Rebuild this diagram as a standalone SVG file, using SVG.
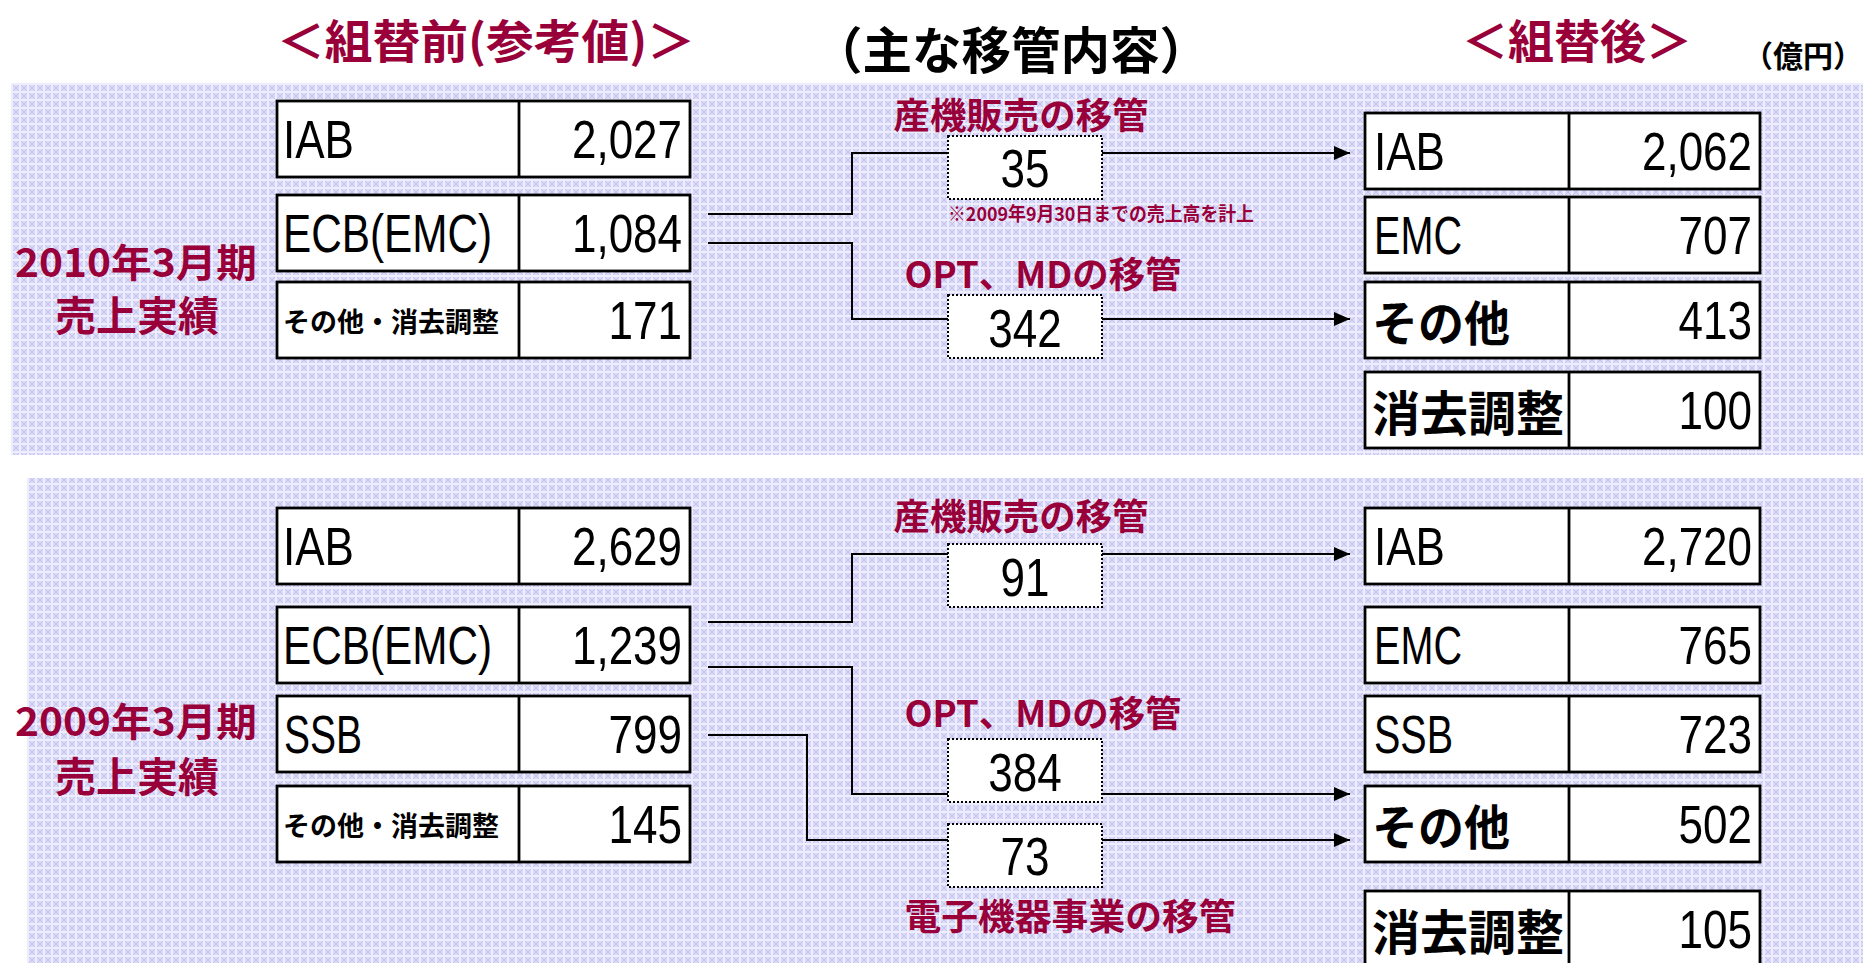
<svg xmlns="http://www.w3.org/2000/svg" width="1863" height="963" viewBox="0 0 1863 963">
<defs>
<pattern id="hatch" width="8" height="8" patternUnits="userSpaceOnUse">
<rect width="8" height="8" fill="#dcdcf8"/>
<path d="M0 0L8 8M8 0L0 8" stroke="#c2c2f2" stroke-width="1"/>
<path d="M4 0V8M0 4H8" stroke="#ffffff" stroke-width="1"/>
</pattern>
<marker id="arr" markerUnits="userSpaceOnUse" markerWidth="16" markerHeight="14" refX="16" refY="7" orient="auto">
<path d="M0 0L16 7L0 14z" fill="#000"/>
</marker>
<style>
.cell{fill:#fff;stroke:#000;stroke-width:2.8}
.dv{stroke:#000;stroke-width:2.8}
.num{font-family:"Liberation Sans",Arial,sans-serif;font-size:54px;fill:#000;text-anchor:end}
.numc{font-family:"Liberation Sans",Arial,sans-serif;font-size:54px;fill:#000;text-anchor:middle}
.lat{font-family:"Liberation Sans",Arial,sans-serif;font-size:54px;fill:#000}
.jp{font-family:"Noto Sans CJK JP",sans-serif;dominant-baseline:central;fill:#000}
.jl{font-size:48px;font-weight:bold}
.js{font-size:27px;font-weight:bold}
.red{fill:#99003a;font-weight:bold}
.mid{text-anchor:middle}
.box{fill:#fff;stroke:#000;stroke-width:2;stroke-dasharray:2 2}
.conn{fill:none;stroke:#000;stroke-width:2}
</style>
</defs>

<rect width="1863" height="963" fill="#fff"/>
<g id="panels">
<rect x="11" y="83" width="1852" height="372" fill="url(#hatch)"/>
<rect x="27" y="478" width="1836" height="485" fill="url(#hatch)"/>
</g>

<g id="titles">
<text class="jp red mid" x="486" y="38" font-size="46" textLength="418" lengthAdjust="spacingAndGlyphs">＜組替前(参考値)＞</text>
<text class="jp mid" x="1011" y="47" font-size="50" font-weight="bold" textLength="396" lengthAdjust="spacingAndGlyphs">（主な移管内容）</text>
<text class="jp red mid" x="1577" y="38" font-size="46">＜組替後＞</text>
<text class="jp mid" x="1803" y="54" font-size="30" font-weight="bold" textLength="120" lengthAdjust="spacingAndGlyphs">（億円）</text>
</g>

<g id="connectors">
<path class="conn" d="M708 214H852V153H1350" marker-end="url(#arr)"/>
<path class="conn" d="M708 243H852V319H1350" marker-end="url(#arr)"/>
<path class="conn" d="M708 622H852V554H1350" marker-end="url(#arr)"/>
<path class="conn" d="M708 667H852V794H1350" marker-end="url(#arr)"/>
<path class="conn" d="M708 735H807V840H1350" marker-end="url(#arr)"/>
</g>

<!-- 2010 period -->
<g id="label-2010">
<text class="jp red mid"><tspan x="136" y="260" font-size="39" textLength="242" lengthAdjust="spacingAndGlyphs">2010年3月期</tspan><tspan x="137" y="313" font-size="41">売上実績</tspan></text>
</g>
<g id="b10-iab"><rect class="cell" x="277" y="101" width="413" height="76"/><line class="dv" x1="519" y1="101" x2="519" y2="177"/>
<text class="lat" x="283" y="158" textLength="71" lengthAdjust="spacingAndGlyphs">IAB</text>
<text class="num" x="682" y="158" textLength="110" lengthAdjust="spacingAndGlyphs">2,027</text></g>
<g id="b10-ecb"><rect class="cell" x="277" y="195" width="413" height="76"/><line class="dv" x1="519" y1="195" x2="519" y2="271"/>
<text class="lat" x="283" y="252" textLength="209" lengthAdjust="spacingAndGlyphs">ECB(EMC)</text>
<text class="num" x="682" y="252" textLength="110" lengthAdjust="spacingAndGlyphs">1,084</text></g>
<g id="b10-oth"><rect class="cell" x="277" y="282" width="413" height="76"/><line class="dv" x1="519" y1="282" x2="519" y2="358"/>
<text class="jp js" x="283" y="320" textLength="216" lengthAdjust="spacingAndGlyphs">その他・消去調整</text>
<text class="num" x="682" y="339" textLength="73.5" lengthAdjust="spacingAndGlyphs">171</text></g>

<g id="m10-sanki">
<text class="jp red mid" x="1021" y="113" font-size="36" textLength="255" lengthAdjust="spacingAndGlyphs">産機販売の移管</text>
<rect class="box" x="948" y="136" width="154" height="63"/>
<text class="numc" x="1025" y="187" textLength="49" lengthAdjust="spacingAndGlyphs">35</text>
<text class="jp red mid" x="1101" y="212" font-size="19" textLength="306" lengthAdjust="spacingAndGlyphs">※2009年9月30日までの売上高を計上</text>
</g>
<g id="m10-opt">
<text class="jp red mid" x="1043" y="272" font-size="36" textLength="277" lengthAdjust="spacingAndGlyphs">OPT、MDの移管</text>
<rect class="box" x="948" y="295" width="154" height="63"/>
<text class="numc" x="1025" y="347" textLength="73.5" lengthAdjust="spacingAndGlyphs">342</text>
</g>

<g id="a10-iab"><rect class="cell" x="1365" y="113" width="395" height="76"/><line class="dv" x1="1569" y1="113" x2="1569" y2="189"/>
<text class="lat" x="1374" y="170" textLength="71" lengthAdjust="spacingAndGlyphs">IAB</text>
<text class="num" x="1752" y="170" textLength="110" lengthAdjust="spacingAndGlyphs">2,062</text></g>
<g id="a10-emc"><rect class="cell" x="1365" y="197" width="395" height="76"/><line class="dv" x1="1569" y1="197" x2="1569" y2="273"/>
<text class="lat" x="1374" y="254" textLength="88" lengthAdjust="spacingAndGlyphs">EMC</text>
<text class="num" x="1752" y="254" textLength="73.5" lengthAdjust="spacingAndGlyphs">707</text></g>
<g id="a10-oth"><rect class="cell" x="1365" y="282" width="395" height="76"/><line class="dv" x1="1569" y1="282" x2="1569" y2="358"/>
<text class="jp jl" x="1372" y="320" textLength="138" lengthAdjust="spacingAndGlyphs">その他</text>
<text class="num" x="1752" y="339" textLength="73.5" lengthAdjust="spacingAndGlyphs">413</text></g>
<g id="a10-adj"><rect class="cell" x="1365" y="372" width="395" height="76"/><line class="dv" x1="1569" y1="372" x2="1569" y2="448"/>
<text class="jp jl" x="1372" y="410" textLength="192" lengthAdjust="spacingAndGlyphs">消去調整</text>
<text class="num" x="1752" y="429" textLength="73.5" lengthAdjust="spacingAndGlyphs">100</text></g>

<!-- 2009 period -->
<g id="label-2009">
<text class="jp red mid"><tspan x="136" y="719" font-size="39" textLength="242" lengthAdjust="spacingAndGlyphs">2009年3月期</tspan><tspan x="137" y="774" font-size="41">売上実績</tspan></text>
</g>
<g id="b09-iab"><rect class="cell" x="277" y="508" width="413" height="76"/><line class="dv" x1="519" y1="508" x2="519" y2="584"/>
<text class="lat" x="283" y="565" textLength="71" lengthAdjust="spacingAndGlyphs">IAB</text>
<text class="num" x="682" y="565" textLength="110" lengthAdjust="spacingAndGlyphs">2,629</text></g>
<g id="b09-ecb"><rect class="cell" x="277" y="607" width="413" height="76"/><line class="dv" x1="519" y1="607" x2="519" y2="683"/>
<text class="lat" x="283" y="664" textLength="209" lengthAdjust="spacingAndGlyphs">ECB(EMC)</text>
<text class="num" x="682" y="664" textLength="110" lengthAdjust="spacingAndGlyphs">1,239</text></g>
<g id="b09-ssb"><rect class="cell" x="277" y="696" width="413" height="76"/><line class="dv" x1="519" y1="696" x2="519" y2="772"/>
<text class="lat" x="284" y="753" textLength="78" lengthAdjust="spacingAndGlyphs">SSB</text>
<text class="num" x="682" y="753" textLength="73.5" lengthAdjust="spacingAndGlyphs">799</text></g>
<g id="b09-oth"><rect class="cell" x="277" y="786" width="413" height="76"/><line class="dv" x1="519" y1="786" x2="519" y2="862"/>
<text class="jp js" x="283" y="824" textLength="216" lengthAdjust="spacingAndGlyphs">その他・消去調整</text>
<text class="num" x="682" y="843" textLength="73.5" lengthAdjust="spacingAndGlyphs">145</text></g>

<g id="m09-sanki">
<text class="jp red mid" x="1021" y="514" font-size="36" textLength="255" lengthAdjust="spacingAndGlyphs">産機販売の移管</text>
<rect class="box" x="948" y="544" width="154" height="63"/>
<text class="numc" x="1025" y="596" textLength="49" lengthAdjust="spacingAndGlyphs">91</text>
</g>
<g id="m09-opt">
<text class="jp red mid" x="1043" y="711" font-size="36" textLength="277" lengthAdjust="spacingAndGlyphs">OPT、MDの移管</text>
<rect class="box" x="948" y="739" width="154" height="63"/>
<text class="numc" x="1025" y="791" textLength="73.5" lengthAdjust="spacingAndGlyphs">384</text>
</g>
<g id="m09-denshi">
<rect class="box" x="948" y="824" width="154" height="63"/>
<text class="numc" x="1025" y="875" textLength="49" lengthAdjust="spacingAndGlyphs">73</text>
<text class="jp red mid" x="1070" y="914" font-size="36" textLength="331" lengthAdjust="spacingAndGlyphs">電子機器事業の移管</text>
</g>

<g id="a09-iab"><rect class="cell" x="1365" y="508" width="395" height="76"/><line class="dv" x1="1569" y1="508" x2="1569" y2="584"/>
<text class="lat" x="1374" y="565" textLength="71" lengthAdjust="spacingAndGlyphs">IAB</text>
<text class="num" x="1752" y="565" textLength="110" lengthAdjust="spacingAndGlyphs">2,720</text></g>
<g id="a09-emc"><rect class="cell" x="1365" y="607" width="395" height="76"/><line class="dv" x1="1569" y1="607" x2="1569" y2="683"/>
<text class="lat" x="1374" y="664" textLength="88" lengthAdjust="spacingAndGlyphs">EMC</text>
<text class="num" x="1752" y="664" textLength="73.5" lengthAdjust="spacingAndGlyphs">765</text></g>
<g id="a09-ssb"><rect class="cell" x="1365" y="696" width="395" height="76"/><line class="dv" x1="1569" y1="696" x2="1569" y2="772"/>
<text class="lat" x="1374" y="753" textLength="79" lengthAdjust="spacingAndGlyphs">SSB</text>
<text class="num" x="1752" y="753" textLength="73.5" lengthAdjust="spacingAndGlyphs">723</text></g>
<g id="a09-oth"><rect class="cell" x="1365" y="786" width="395" height="76"/><line class="dv" x1="1569" y1="786" x2="1569" y2="862"/>
<text class="jp jl" x="1372" y="824" textLength="138" lengthAdjust="spacingAndGlyphs">その他</text>
<text class="num" x="1752" y="843" textLength="73.5" lengthAdjust="spacingAndGlyphs">502</text></g>
<g id="a09-adj"><rect class="cell" x="1365" y="891" width="395" height="76"/><line class="dv" x1="1569" y1="891" x2="1569" y2="967"/>
<text class="jp jl" x="1372" y="929" textLength="192" lengthAdjust="spacingAndGlyphs">消去調整</text>
<text class="num" x="1752" y="948" textLength="73.5" lengthAdjust="spacingAndGlyphs">105</text></g>
</svg>
